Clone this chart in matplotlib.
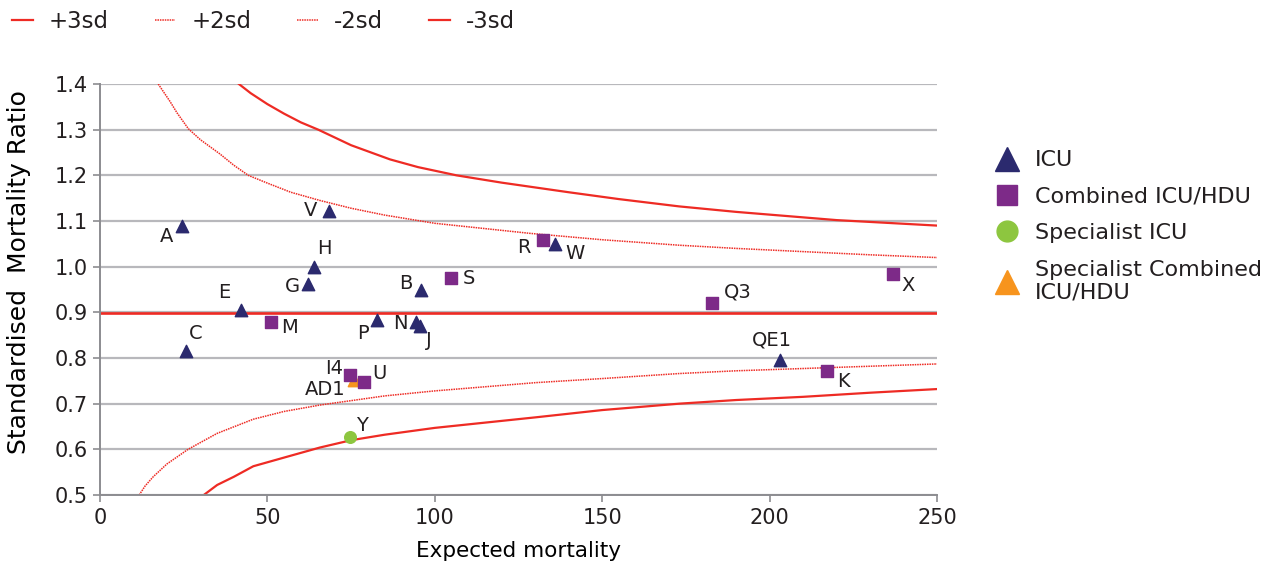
import matplotlib
matplotlib.use("Agg")
import matplotlib.pyplot as plt
from matplotlib.lines import Line2D

plt.rcParams['font.family'] = ['DejaVu Sans']
plt.rcParams['text.color'] = '#231f20'

# units: expected deaths (x) and SMR (y)
icu_names = ['A', 'V', 'H', 'G', 'E', 'C', 'P', 'N', 'J', 'B', 'W', 'QE1']
icu_exp = [24.6, 68.4, 63.8, 62.1, 42.0, 25.6, 82.6, 94.5, 95.5, 95.8, 136.0, 203.2]
icu_smr = [1.088, 1.123, 0.999, 0.962, 0.906, 0.815, 0.884, 0.879, 0.870, 0.948, 1.050, 0.796]

comb_names = ['M', 'S', 'R', 'Q3', 'X', 'K', 'I4', 'U']
comb_exp = [51.0, 104.7, 132.3, 182.9, 237.0, 217.1, 74.7, 79.0]
comb_smr = [0.878, 0.975, 1.059, 0.920, 0.984, 0.771, 0.763, 0.747]

spec_names = ['Y']
spec_exp = [74.8]
spec_smr = [0.628]

spec_comb_names = ['AD1']
spec_comb_exp = [75.8]
spec_comb_smr = [0.752]

# overall SMR and control limits
centre_smr = 0.898
plus3_x = [41.5, 45, 50, 55, 60, 65.2, 75, 86.6, 95, 106.5, 120, 140, 155, 173, 190, 205, 220, 235, 250]
plus3_y = [1.400, 1.380, 1.356, 1.335, 1.316, 1.300, 1.266, 1.235, 1.218, 1.200, 1.184, 1.163,
           1.148, 1.132, 1.120, 1.111, 1.102, 1.096, 1.090]
plus2_x = [17.4, 20.9, 23, 26.4, 30, 35.8, 40, 44.3, 50, 57, 65.7, 75, 85, 100, 128.4, 150, 173,
           190, 210, 230, 250]
plus2_y = [1.400, 1.362, 1.337, 1.302, 1.278, 1.247, 1.222, 1.200, 1.183, 1.163, 1.145, 1.128,
           1.113, 1.095, 1.073, 1.059, 1.047, 1.040, 1.033, 1.026, 1.020]
minus2_x = [11.7, 13.5, 15.9, 20, 26.3, 35, 45.8, 55, 65.7, 85, 100, 130, 150, 173, 190, 210, 230, 250]
minus2_y = [0.500, 0.520, 0.540, 0.568, 0.600, 0.635, 0.666, 0.683, 0.697, 0.717, 0.728, 0.746,
            0.755, 0.766, 0.772, 0.777, 0.782, 0.787]
minus3_x = [31.0, 35, 40, 45.8, 55, 65.7, 75, 85, 100, 130, 150, 173, 190, 210, 230, 250]
minus3_y = [0.500, 0.522, 0.540, 0.563, 0.582, 0.604, 0.620, 0.632, 0.647, 0.670, 0.686, 0.700,
            0.708, 0.715, 0.724, 0.732]

# label offsets in pixels (right, up)
label_offsets = {
    'A': (-16, -10), 'V': (-18, 0), 'H': (11, 19), 'G': (-15, -2),
    'E': (-16, 17), 'C': (10, 18), 'P': (-14, -14), 'N': (-16, -2),
    'J': (9, -14), 'B': (-15, 7), 'W': (20, -10), 'QE1': (-8, 20),
    'M': (19, -5), 'S': (18, 0), 'R': (-19, -8), 'Q3': (25, 11),
    'X': (15, -12), 'K': (17, -10), 'I4': (-16, 6), 'U': (15, 9),
    'Y': (12, 11), 'AD1': (-29, -10),
}

red = '#ee2b24'
navy = '#2b2a6e'
purple = '#7d2a88'
green = '#8dc63f'
orange = '#f7941d'
grey = '#b8b8bc'

fig = plt.figure(figsize=(12.64, 5.62), dpi=100)
ax = fig.add_axes([0.0791, 0.1192, 0.6622, 0.7313])

ax.set_xlim(0, 250)
ax.set_ylim(0.5, 1.4)
ax.set_xticks(range(0, 251, 50))
ax.set_yticks([0.5 + 0.1 * i for i in range(10)])
ax.set_yticklabels([f'{0.5 + 0.1 * i:.1f}' for i in range(10)])
ax.yaxis.grid(True, color=grey, linewidth=1.6)
ax.set_axisbelow(True)
for side in ['top', 'right']:
    ax.spines[side].set_visible(False)
for side in ['left', 'bottom']:
    ax.spines[side].set_color('#8c8c90')
    ax.spines[side].set_linewidth(1.4)
ax.tick_params(axis='both', colors='#8c8c90', length=5, width=1.2,
               labelcolor='#231f20', labelsize=15, pad=4)

# funnel limits
l3, = ax.plot(plus3_x, plus3_y, color=red, lw=1.6)
l2, = ax.plot(plus2_x, plus2_y, color=red, lw=1.1, ls=(0, (1, 0.6)))
m2, = ax.plot(minus2_x, minus2_y, color=red, lw=1.1, ls=(0, (1, 0.6)))
m3, = ax.plot(minus3_x, minus3_y, color=red, lw=1.6)
ax.axhline(centre_smr, color=red, lw=1.9, zorder=2)

# units by type
ax.scatter(icu_exp, icu_smr, marker='^', s=80, color=navy, zorder=4)
ax.scatter(comb_exp, comb_smr, marker='s', s=70, color=purple, zorder=4)
ax.scatter(spec_exp, spec_smr, marker='o', s=70, color=green, zorder=4)
ax.scatter(spec_comb_exp, spec_comb_smr, marker='^', s=80, color=orange, zorder=3)

for names, xs, ys in [(icu_names, icu_exp, icu_smr), (comb_names, comb_exp, comb_smr),
                      (spec_names, spec_exp, spec_smr),
                      (spec_comb_names, spec_comb_exp, spec_comb_smr)]:
    for n, x, y in zip(names, xs, ys):
        ax.annotate(n, (x, y), xytext=label_offsets[n], textcoords='offset pixels',
                    ha='center', va='center', fontsize=14, zorder=5)

ax.set_xlabel('Expected mortality', fontsize=15.5, va='top')
ax.xaxis.set_label_coords(0.5, -0.112)
ax.set_ylabel('Standardised  Mortality Ratio', fontsize=18)
ax.yaxis.set_label_coords(-0.083, 0.543)

# legend for the limits along the top
fig.legend([l3, l2, m2, m3], ['+3sd', '+2sd', '-2sd', '-3sd'],
           loc='upper left', bbox_to_anchor=(10 / 1264, 0.986), ncol=4, frameon=False,
           borderpad=0.1, borderaxespad=0,
           handlelength=0.9, handletextpad=0.7, columnspacing=2.0, fontsize=16.5)

# legend for unit types on the right
h1 = Line2D([], [], marker='^', ls='', ms=17, color=navy)
h2 = Line2D([], [], marker='s', ls='', ms=15, color=purple)
h3 = Line2D([], [], marker='o', ls='', ms=15, color=green)
h4 = Line2D([], [], marker='^', ls='', ms=17, color=orange)
fig.legend([h1, h2, h3, h4],
           ['ICU', 'Combined ICU/HDU', 'Specialist ICU', 'Specialist Combined\nICU/HDU'],
           loc='upper left', bbox_to_anchor=(0.770, 0.768), frameon=False,
           handlelength=1.2, handletextpad=0.68, labelspacing=0.74, fontsize=16)

fig.savefig('out.png', dpi=100)
